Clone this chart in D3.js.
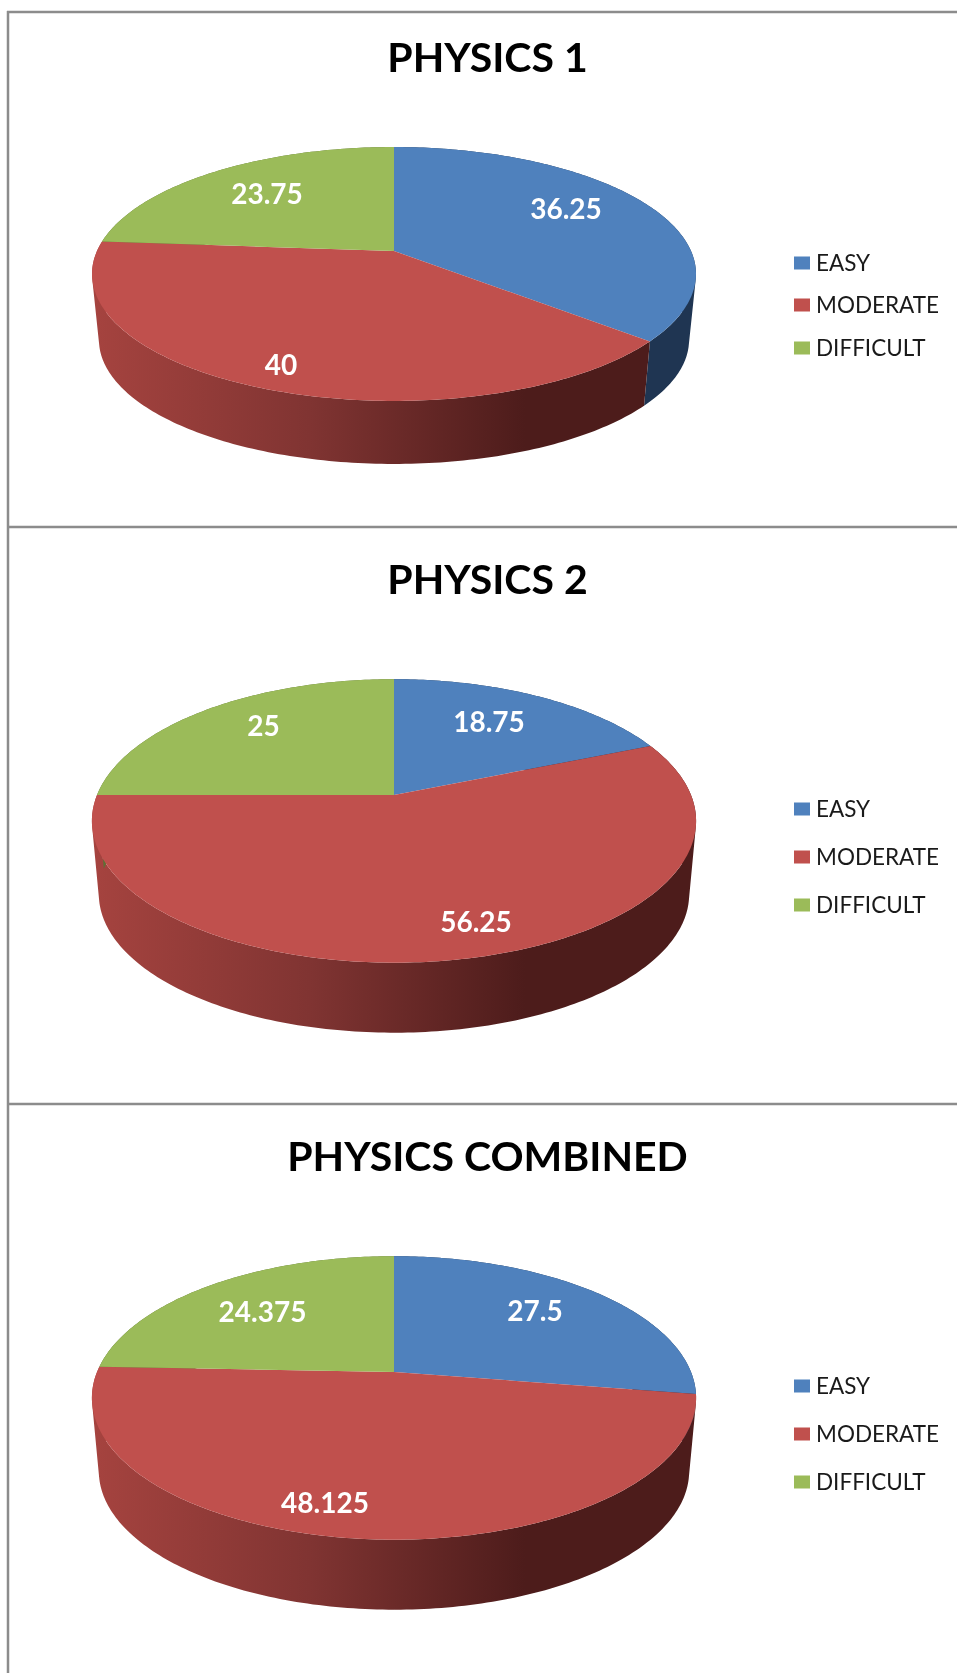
<!DOCTYPE html>
<meta charset="utf-8">
<style>
  html, body { margin: 0; padding: 0; background: #fff; }
  svg { display: block; filter: blur(0.5px); }
  text { font-family: Lato, "Open Sans", sans-serif; }
</style>

<script src="https://d3js.org/d3.v7.min.js"></script>

<div id="my_dataviz"></div>

<script>

// values
var categories = ["EASY", "MODERATE", "DIFFICULT"];
var titles = ["PHYSICS 1", "PHYSICS 2", "PHYSICS COMBINED"];
var physics1 = [36.25, 40, 23.75];
var physics2 = [18.75, 56.25, 25];
var physicsCombined = [27.5, 48.125, 24.375];
var series = [physics1, physics2, physicsCombined];

var sliceColors = ["#4f81bd", "#c0504d", "#9bbb59"];

var width = 957, height = 1673;

// where each panel sits: apex of the pie, perspective and label spots
var layout = [
  {titleY: 72,   apexY: 251,  b: 122.8, k: 0.181, depth: 63,
   labels: [[566, 209], [281, 365], [267, 194]], legendY: [263, 305, 348]},
  {titleY: 594,  apexY: 795,  b: 137,   k: 0.183, depth: 70,
   labels: [[489, 722], [476, 922], [263.5, 725.5]], legendY: [809, 857, 905]},
  {titleY: 1171, apexY: 1372, b: 137,   k: 0.183, depth: 70,
   labels: [[535, 1311], [325, 1502.5], [262.5, 1311.5]], legendY: [1386, 1434, 1482]}
];

var cx = 394, a = 297, bottomScale = 0.977;
var rules = [12, 527, 1104];

var color = d3.scaleOrdinal().domain(categories).range(sliceColors);

var svg = d3.select("#my_dataviz")
  .append("svg")
    .attr("width", width)
    .attr("height", height);

svg.append("rect").attr("width", width).attr("height", height).attr("fill", "#fff");

// side wall shading, goes dark towards the right
var defs = svg.append("defs");
var wallRed = defs.append("linearGradient")
    .attr("id", "wallRed")
    .attr("gradientUnits", "userSpaceOnUse")
    .attr("x1", 95).attr("x2", 525).attr("y1", 0).attr("y2", 0);
wallRed.append("stop").attr("offset", "0%").attr("stop-color", "#a5433f");
wallRed.append("stop").attr("offset", "50%").attr("stop-color", "#803432");
wallRed.append("stop").attr("offset", "100%").attr("stop-color", "#4d1c1b");

var wallFill = {EASY: "#1f3552", MODERATE: "url(#wallRed)", DIFFICULT: "#5d7035"};

var pie = d3.pie().sort(null);
var line = d3.line().curve(d3.curveLinear);

series.forEach(function(values, i) {
  var p = layout[i];
  var g = svg.append("g");

  // unit circle angle -> screen, the near edge of the disc is drawn bigger
  function project(angle, scale, dy) {
    var u = Math.sin(angle), v = -Math.cos(angle), w = 1 - p.k * v;
    return [cx + scale * a * u / w, p.apexY + dy + scale * p.b * v / w];
  }
  var bottomDy = p.depth + (1 - bottomScale) * p.b / (1 - p.k);

  function steps(d) {
    var n = Math.ceil((d.endAngle - d.startAngle) * 60);
    return d3.range(n + 1).map(function(j) {
      return d.startAngle + (d.endAngle - d.startAngle) * j / n;
    });
  }

  var slices = pie(values);

  // walls first, the top faces cover whatever is at the back.
  // one quad per step, all wound the same way so nothing cancels out at the silhouette
  g.selectAll(".wall")
    .data(slices)
    .enter()
    .append("path")
      .attr("class", "wall")
      .attr("fill", function(d, j) { return wallFill[categories[j]]; })
      .attr("d", function(d) {
        var s = steps(d), path = "";
        d3.pairs(s).forEach(function(pair) {
          var quad = [
            project(pair[0], 1, 0),
            project(pair[1], 1, 0),
            project(pair[1], bottomScale, bottomDy),
            project(pair[0], bottomScale, bottomDy)
          ];
          if (d3.polygonArea(quad) < 0) quad.reverse();
          path += line(quad) + "Z";
        });
        return path;
      });

  g.selectAll(".slice")
    .data(slices)
    .enter()
    .append("path")
      .attr("class", "slice")
      .attr("fill", function(d, j) { return color(categories[j]); })
      .attr("d", function(d) {
        var pts = steps(d).map(function(t) { return project(t, 1, 0); });
        return line([[cx, p.apexY]].concat(pts)) + "Z";
      });

  g.selectAll(".value")
    .data(values)
    .enter()
    .append("text")
      .attr("class", "value")
      .attr("x", function(d, j) { return p.labels[j][0]; })
      .attr("y", function(d, j) { return p.labels[j][1]; })
      .attr("dy", "0.36em")
      .attr("text-anchor", "middle")
      .attr("fill", "#fff")
      .attr("font-size", 28)
      .attr("font-weight", 700)
      .text(function(d) { return d; });

  g.append("text")
    .attr("x", 487.5)
    .attr("y", p.titleY)
    .attr("text-anchor", "middle")
    .attr("fill", "#000")
    .attr("font-size", 41)
    .attr("font-weight", 700)
    .text(titles[i]);

  // legend
  g.selectAll(".swatch")
    .data(categories)
    .enter()
    .append("rect")
      .attr("class", "swatch")
      .attr("x", 794)
      .attr("y", function(d, j) { return p.legendY[j] - 6.5; })
      .attr("width", 16)
      .attr("height", 13)
      .attr("fill", function(d) { return color(d); });

  g.selectAll(".name")
    .data(categories)
    .enter()
    .append("text")
      .attr("class", "name")
      .attr("x", 816)
      .attr("y", function(d, j) { return p.legendY[j]; })
      .attr("dy", "0.36em")
      .attr("fill", "#1a1a1a")
      .attr("font-size", 22.5)
      .text(function(d) { return d; });
});

// panel borders
svg.selectAll(".rule")
  .data(rules)
  .enter()
  .append("line")
    .attr("class", "rule")
    .attr("x1", 7).attr("x2", width)
    .attr("y1", function(d) { return d; })
    .attr("y2", function(d) { return d; })
    .attr("stroke", "#8c8c8c")
    .attr("stroke-width", 2.5);

svg.append("line")
  .attr("x1", 8).attr("x2", 8)
  .attr("y1", 11).attr("y2", height)
  .attr("stroke", "#8c8c8c")
  .attr("stroke-width", 2.5);

</script>
